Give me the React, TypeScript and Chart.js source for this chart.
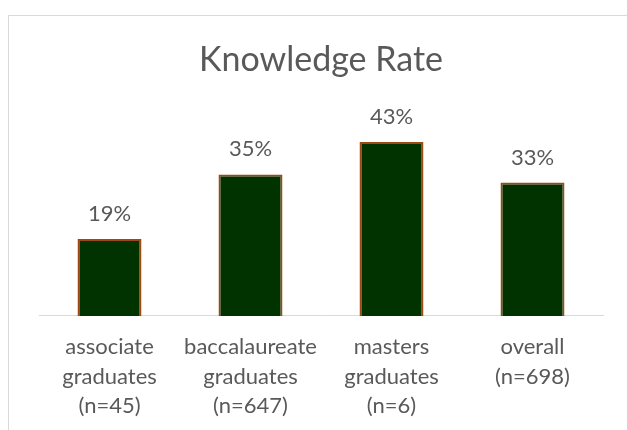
import React, { useEffect, useRef } from "react";
import { Chart, registerables } from "chart.js";

Chart.register(...registerables);

const categories: string[][] = [
  ["associate", "graduates", "(n=45)"],
  ["baccalaureate", "graduates", "(n=647)"],
  ["masters", "graduates", "(n=6)"],
  ["overall", "(n=698)"],
];
const knowledgeRate: number[] = [19, 35, 43, 33];
const chartTitle = "Knowledge Rate";

const FONT = "Lato, 'Open Sans', sans-serif";
const TEXT = "#595959";

const dataLabels = {
  id: "dataLabels",
  afterDatasetsDraw(chart: any) {
    const ctx = chart.ctx;
    const meta = chart.getDatasetMeta(0);
    ctx.save();
    ctx.font = `22px ${FONT}`;
    ctx.fillStyle = TEXT;
    ctx.textAlign = "center";
    ctx.textBaseline = "alphabetic";
    meta.data.forEach((bar: any, i: number) => {
      ctx.fillText(`${knowledgeRate[i]}%`, bar.x, bar.y - 18);
    });
    ctx.restore();
  },
};

export default function App() {
  const ref = useRef<HTMLCanvasElement>(null);
  useEffect(() => {
    if (!ref.current) return;
    const chart = new Chart(ref.current, {
      type: "bar",
      data: {
        labels: categories,
        datasets: [
          {
            data: knowledgeRate,
            backgroundColor: "#003300",
            borderColor: "#9C4A12",
            borderWidth: 2,
            categoryPercentage: 1,
            barPercentage: 0.454,
          },
        ],
      },
      options: {
        animation: false,
        responsive: true,
        maintainAspectRatio: false,
        layout: { padding: { left: 39, right: 24, bottom: -7 } },
        plugins: {
          legend: { display: false },
          tooltip: { enabled: false },
          title: {
            display: true,
            text: chartTitle,
            color: TEXT,
            font: { family: FONT, size: 34, weight: "normal" },
            padding: { top: 40, bottom: 33 },
          },
        },
        scales: {
          y: { display: false, min: 0, max: 50 },
          x: {
            grid: { display: false, drawTicks: false },
            border: { display: true, color: "#d9d9d9", width: 1 },
            ticks: {
              color: TEXT,
              font: { family: FONT, size: 22, lineHeight: 1.32 },
              padding: 17,
              maxRotation: 0,
              autoSkip: false,
            },
          },
        },
      },
      plugins: [dataLabels],
    });
    return () => chart.destroy();
  }, []);

  return (
    <div style={{ position: "absolute", left: 0, top: 0, width: 627, height: 430, background: "#fff" }}>
      <div
        style={{
          position: "absolute",
          left: 8,
          top: 15,
          width: 640,
          height: 440,
          borderLeft: "1px solid #d9d9d9",
          borderTop: "1px solid #d9d9d9",
        }}
      />
      <canvas ref={ref} style={{ position: "absolute", left: 0, top: 0 }} width={627} height={430} />
    </div>
  );
}
